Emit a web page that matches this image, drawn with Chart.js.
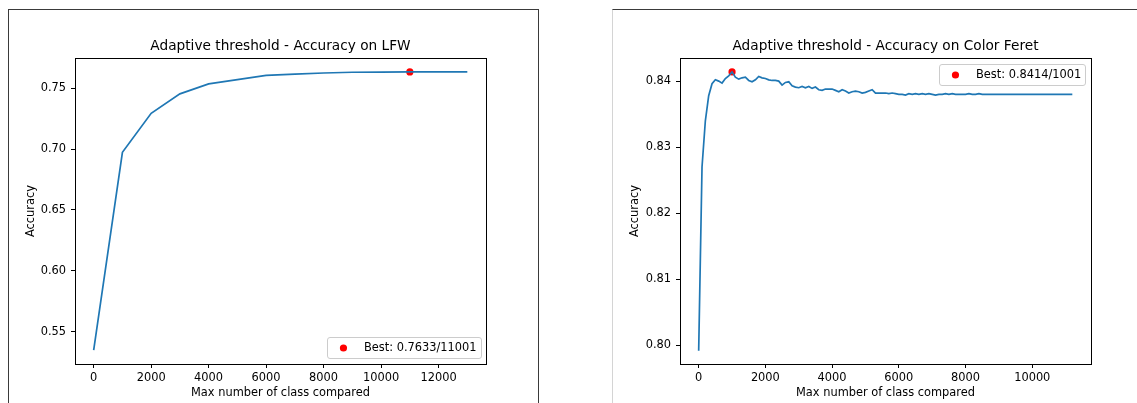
<!DOCTYPE html>
<html>
<head>
<meta charset="utf-8">
<script src="https://cdn.jsdelivr.net/npm/chart.js@4.4.1/dist/chart.umd.min.js"></script>
<style>
  html, body { margin: 0; padding: 0; background: #fff; overflow: hidden; }
  #page { position: relative; width: 1137px; height: 403px; }
  .frame { position: absolute; box-sizing: border-box; }
  #frameL { left: 8px; top: 9px; width: 531px; height: 440px; border: 1px solid #3a3a3a; }
  #frameR { left: 612px; top: 9px; width: 560px; height: 440px; border-top: 1px solid #3a3a3a; border-left: 1px solid #d4d4d4; }
  canvas { position: absolute; top: 0; }
  #lfw { left: 0; }
  #feret { left: 570px; }
</style>
</head>
<body>
<div id="page">
  <div class="frame" id="frameL"></div>
  <div class="frame" id="frameR"></div>
  <canvas id="lfw" width="560" height="403"></canvas>
  <canvas id="feret" width="567" height="403"></canvas>
</div>
<script>
// ---- LFW: accuracy vs. max number of classes compared ----
const lfwClasses = [1, 1001, 2001, 3001, 4001, 5001, 6001, 7001, 8001, 9001, 10001, 11001, 12001, 13001];
const lfwAccuracy = [0.5350, 0.6973, 0.7293, 0.7453, 0.7535, 0.7570, 0.7604, 0.7615, 0.7624, 0.7630, 0.7631, 0.7633, 0.7633, 0.7633];
const lfwBestClass = [11001];
const lfwBestAccuracy = [0.7633];
const lfwXTicks = [0, 2000, 4000, 6000, 8000, 10000, 12000];
const lfwYTicks = [0.55, 0.60, 0.65, 0.70, 0.75];

// ---- Color Feret: accuracy vs. max number of classes compared ----
const feretClasses = [
  1, 101, 201, 301, 401, 501, 601, 701, 801, 901,
  1001, 1101, 1201, 1301, 1401, 1501, 1601, 1701, 1801, 1901,
  2001, 2101, 2201, 2301, 2401, 2501, 2601, 2701, 2801, 2901,
  3001, 3101, 3201, 3301, 3401, 3501, 3601, 3701, 3801, 3901,
  4001, 4101, 4201, 4301, 4401, 4501, 4601, 4701, 4801, 4901,
  5001, 5101, 5201, 5301, 5401, 5501, 5601, 5701, 5801, 5901,
  6001, 6101, 6201, 6301, 6401, 6501, 6601, 6701, 6801, 6901,
  7001, 7101, 7201, 7301, 7401, 7501, 7601, 7701, 7801, 7901,
  8001, 8101, 8201, 8301, 8401, 8501, 8601, 8701, 8801, 8901,
  9001, 9101, 9201, 9301, 9401, 9501, 9601, 9701, 9801, 9901,
  10001, 10101, 10201, 10301, 10401, 10501, 10601, 10701, 10801, 10901,
  11001, 11101, 11201
];
const feretAccuracy = [
  0.7992, 0.8270, 0.8340, 0.8378, 0.8396, 0.8402, 0.8400, 0.8397, 0.8404, 0.8408,
  0.8414, 0.8406, 0.8403, 0.8405, 0.8406, 0.8401, 0.8399, 0.8402, 0.8407, 0.8405,
  0.8404, 0.8402, 0.8401, 0.8401, 0.8400, 0.8394, 0.8398, 0.8399, 0.8393, 0.8391,
  0.8390, 0.8392, 0.8390, 0.8392, 0.8389, 0.8391, 0.8387, 0.8386, 0.8388, 0.8388,
  0.8388, 0.8386, 0.8384, 0.8387, 0.8385, 0.8382, 0.8384, 0.8385, 0.8384, 0.8382,
  0.8383, 0.8385, 0.8387, 0.8382, 0.8382, 0.8382, 0.8382, 0.8381, 0.8382, 0.8381,
  0.8380, 0.8380, 0.8379, 0.8381, 0.8380, 0.8381, 0.8380, 0.8381, 0.8380, 0.8381,
  0.8380, 0.8379, 0.8380, 0.8380, 0.8381, 0.8380, 0.8381, 0.8380, 0.8380, 0.8380,
  0.8380, 0.8381, 0.8380, 0.8380, 0.8381, 0.8380, 0.8380, 0.8380, 0.8380, 0.8380,
  0.8380, 0.8380, 0.8380, 0.8380, 0.8380, 0.8380, 0.8380, 0.8380, 0.8380, 0.8380,
  0.8380, 0.8380, 0.8380, 0.8380, 0.8380, 0.8380, 0.8380, 0.8380, 0.8380, 0.8380,
  0.8380, 0.8380, 0.8380
];
const feretBestClass = [1001];
const feretBestAccuracy = [0.8414];
const feretXTicks = [0, 2000, 4000, 6000, 8000, 10000];
const feretYTicks = [0.80, 0.81, 0.82, 0.83, 0.84];

const FONT = '"DejaVu Sans", "Liberation Sans", sans-serif';
const TICK_SIZE = 11.4;
const TITLE_SIZE = 13.7;

// Box round the plotting area (all four spines)
const axesFrame = {
  id: 'axesFrame',
  afterDraw(chart) {
    const { ctx, chartArea: a } = chart;
    ctx.save();
    ctx.strokeStyle = '#000';
    ctx.lineWidth = 1;
    ctx.strokeRect(Math.round(a.left) + 0.5, Math.round(a.top) + 0.5,
                   Math.round(a.right - a.left), Math.round(a.bottom - a.top));
    ctx.restore();
  }
};

// Title centred over the plotting area
const plotTitle = {
  id: 'plotTitle',
  afterDraw(chart, args, opts) {
    const { ctx, chartArea: a } = chart;
    ctx.save();
    ctx.font = TITLE_SIZE + 'px ' + FONT;
    ctx.fillStyle = '#000';
    ctx.textAlign = 'center';
    ctx.textBaseline = 'alphabetic';
    ctx.fillText(opts.text, (a.left + a.right) / 2, a.top - opts.gap);
    ctx.restore();
  }
};

// Legend box inside the axes for the labelled marker dataset
const bestLegend = {
  id: 'bestLegend',
  afterDraw(chart, args, opts) {
    const { ctx, chartArea: a } = chart;
    const ds = chart.data.datasets[opts.datasetIndex];
    const fs = TICK_SIZE;
    ctx.save();
    ctx.font = fs + 'px ' + FONT;
    const tw = ctx.measureText(ds.label).width;
    const pad = 0.4 * fs, handle = 2.0 * fs, gap = 0.8 * fs, inset = 0.5 * fs;
    const w = pad + handle + gap + tw + pad;
    const h = opts.height;
    const x = Math.round(a.right - inset - w) + 0.5;
    const y = (opts.corner === 'upper' ? Math.round(a.top + inset) : Math.round(a.bottom - inset - h)) + 0.5;
    ctx.beginPath();
    ctx.roundRect(x, y, Math.round(w), h, 2.5);
    ctx.fillStyle = 'rgba(255,255,255,0.8)';
    ctx.fill();
    ctx.strokeStyle = '#cccccc';
    ctx.lineWidth = 1;
    ctx.stroke();
    ctx.beginPath();
    ctx.arc(x + pad + handle / 2, y + h / 2, ds.pointRadius, 0, Math.PI * 2);
    ctx.fillStyle = ds.backgroundColor;
    ctx.fill();
    ctx.fillStyle = '#000';
    ctx.textAlign = 'left';
    ctx.textBaseline = 'middle';
    ctx.fillText(ds.label, x + pad + handle + gap, y + h / 2 + 0.5);
    ctx.restore();
  }
};

function makeChart(canvasId, cfg) {
  const tickFont = { family: FONT, size: TICK_SIZE };
  return new Chart(document.getElementById(canvasId), {
    type: 'scatter',
    data: {
      datasets: [
        {
          label: 'accuracy',
          data: cfg.classes.map((c, i) => ({ x: c, y: cfg.accuracy[i] })),
          showLine: true,
          borderColor: '#1f77b4',
          borderWidth: 1.7,
          pointRadius: 0,
          tension: 0,
          fill: false
        },
        {
          label: 'Best: ' + cfg.bestAccuracy[0].toFixed(4) + '/' + cfg.bestClass[0],
          data: [{ x: cfg.bestClass[0], y: cfg.bestAccuracy[0] }],
          backgroundColor: '#ff0000',
          borderColor: '#ff0000',
          borderWidth: 0,
          pointRadius: 3.6
        }
      ]
    },
    options: {
      responsive: false,
      animation: false,
      devicePixelRatio: 1,
      events: [],
      layout: { padding: { left: 0, top: 58, right: cfg.padRight, bottom: 0 } },
      plugins: {
        legend: { display: false },
        tooltip: { enabled: false },
        plotTitle: { text: cfg.title, gap: 8.5 },
        bestLegend: { datasetIndex: 1, corner: cfg.legendCorner, height: 21 }
      },
      scales: {
        x: {
          type: 'linear',
          min: cfg.xMin,
          max: cfg.xMax,
          afterFit: s => { s.height = 39; },
          afterBuildTicks: s => { s.ticks = cfg.xTicks.map(v => ({ value: v })); },
          ticks: { font: tickFont, color: '#000', padding: 3, maxRotation: 0, autoSkip: false,
                   callback: v => String(v) },
          grid: { drawOnChartArea: false, drawTicks: true, tickLength: 4, color: '#000', lineWidth: 1 },
          border: { display: false },
          title: { display: true, text: 'Max number of class compared', font: tickFont, color: '#000',
                   padding: { top: 0, bottom: 3 } }
        },
        y: {
          type: 'linear',
          min: cfg.yMin,
          max: cfg.yMax,
          afterFit: s => { s.width = cfg.yAxisWidth; },
          afterBuildTicks: s => { s.ticks = cfg.yTicks.map(v => ({ value: v })); },
          ticks: { font: tickFont, color: '#000', padding: 5, autoSkip: false,
                   callback: v => v.toFixed(2) },
          grid: { drawOnChartArea: false, drawTicks: true, tickLength: 4, color: '#000', lineWidth: 1 },
          border: { display: false },
          title: { display: true, text: 'Accuracy', font: tickFont, color: '#000',
                   padding: { top: cfg.yTitleOffset, bottom: 0 } }
        }
      }
    },
    plugins: [axesFrame, plotTitle, bestLegend]
  });
}

makeChart('lfw', {
  title: 'Adaptive threshold - Accuracy on LFW',
  classes: lfwClasses, accuracy: lfwAccuracy,
  bestClass: lfwBestClass, bestAccuracy: lfwBestAccuracy,
  xTicks: lfwXTicks, yTicks: lfwYTicks,
  xMin: -649, xMax: 13651, yMin: 0.5236, yMax: 0.7747,
  yAxisWidth: 75, padRight: 74, yTitleOffset: 24.2,
  legendCorner: 'lower'
});

makeChart('feret', {
  title: 'Adaptive threshold - Accuracy on Color Feret',
  classes: feretClasses, accuracy: feretAccuracy,
  bestClass: feretBestClass, bestAccuracy: feretBestAccuracy,
  xTicks: feretXTicks, yTicks: feretYTicks,
  xMin: -559, xMax: 11761, yMin: 0.7972, yMax: 0.8435,
  yAxisWidth: 110, padRight: 46, yTitleOffset: 58.2,
  legendCorner: 'upper'
});
</script>
</body>
</html>
